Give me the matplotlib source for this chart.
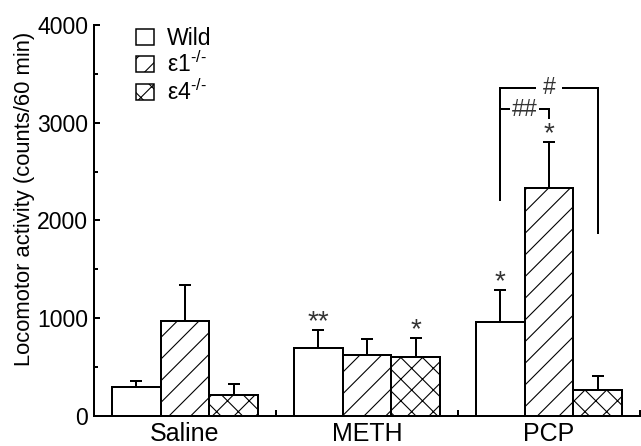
import matplotlib
matplotlib.use("Agg")
import matplotlib.pyplot as plt
import numpy as np
from matplotlib.patches import Patch

DPI = 130
def pt(px):
    return px * 72.0 / DPI

plt.rcParams['font.family'] = ['Liberation Sans', 'DejaVu Sans']
plt.rcParams['mathtext.fontset'] = 'custom'
plt.rcParams['mathtext.rm'] = 'Liberation Sans'
plt.rcParams['mathtext.it'] = 'Liberation Sans:italic'
plt.rcParams['hatch.linewidth'] = pt(1.1)

# ---- data ----
categories = ["Saline", "METH", "PCP"]
series = ["Wild", r"ε1$^{\text{-/-}}$", r"ε4$^{\text{-/-}}$"]
wild_mean = [291, 693, 959]
wild_err = [64, 184, 328]
e1_mean = [972, 618, 2327]
e1_err = [369, 164, 478]
e4_mean = [209, 598, 263]
e4_err = [112, 194, 143]
# significance stars: (category index, series index, label)
stars = [(1, 0, "**"), (1, 2, "*"), (2, 0, "*"), (2, 1, "*")]
# brackets: (category, series a, series b, label, level, drop a, drop b)
brackets = [(2, 0, 2, "#", 3360, 2210, 1870),
            (2, 0, 1, "##", 3140, 3140, 3050)]
yticks = [0, 1000, 2000, 3000, 4000]

means = [wild_mean, e1_mean, e4_mean]
errs = [wild_err, e1_err, e4_err]
hatches = ["", "//", "xx"]

fig = plt.figure(figsize=(641 / DPI, 446 / DPI), dpi=DPI)
W, H = 641, 446
left, right, bottom_px, top_px = 94, 640, 415.7, 25
ax = fig.add_axes([left / W, (H - bottom_px) / H, (right - left) / W, (bottom_px - top_px) / H])

x = np.arange(1, len(categories) + 1)
bw = 0.268
offsets = [-bw, 0, bw]
for i in range(3):
    ax.bar(x + offsets[i], means[i], width=bw, facecolor="white", edgecolor="black",
           linewidth=pt(2), hatch=hatches[i], zorder=2)
    ax.errorbar(x + offsets[i], means[i], yerr=[np.zeros(3), errs[i]], fmt="none",
                ecolor="black", elinewidth=pt(2), capsize=pt(6), capthick=pt(2), zorder=1)

for c, s, lab in stars:
    xs = x[c] + offsets[s]
    ys = means[s][c] + errs[s][c]
    ax.annotate(lab, (xs, ys), xytext=(0, pt(1)), textcoords="offset points",
                ha="center", va="baseline", fontsize=pt(28), color="#333333")

for c, a, b, lab, lvl, da, db in brackets:
    xa = x[c] + offsets[a]
    xb = x[c] + offsets[b]
    ax.plot([xa, xa, xb, xb], [da, lvl, lvl, db], color="black", lw=pt(2), zorder=3,
            solid_joinstyle="miter")
    if lab == "#":
        xt = x[c] + offsets[1]
        pad = 0.3
    else:
        xt = (xa + xb) / 2
        pad = 0.06
    ax.text(xt, lvl, lab, ha="center", va="center", fontsize=pt(23), color="#333333",
            zorder=4, bbox=dict(boxstyle=f"square,pad={pad}", facecolor="white", edgecolor="none"))

ax.set_xlim(0.5, 3.5)
ax.set_ylim(0, 4000)
ax.spines['top'].set_visible(False)
ax.spines['right'].set_visible(False)
ax.spines['left'].set_linewidth(pt(2))
ax.spines['bottom'].set_linewidth(pt(2))

ax.set_yticks(yticks)
ax.set_yticks(np.arange(500, 4000, 1000), minor=True)
ax.tick_params(axis='y', which='major', direction='in', length=pt(6), width=pt(2),
               labelsize=pt(23), pad=pt(6))
ax.tick_params(axis='y', which='minor', direction='in', length=pt(4), width=pt(2))

ax.set_xticks(x)
ax.set_xticklabels(categories)
ax.set_xticks(x + 0.5, minor=True)
ax.tick_params(axis='x', which='major', length=0, labelsize=pt(25), pad=pt(6))
ax.tick_params(axis='x', which='minor', direction='in', length=pt(6), width=pt(2))

ax.set_ylabel("Locomotor activity (counts/60 min)", fontsize=pt(22))
ax.yaxis.set_label_coords(-0.108, 0.555)

handles = [Patch(facecolor="white", edgecolor="black", hatch=h, linewidth=pt(1.5)) for h in hatches]
ax.legend(handles, series, loc="upper left", bbox_to_anchor=((136 - left) / (right - left), 0.995),
          frameon=False, fontsize=pt(23), handlelength=0.78, handleheight=0.7,
          handletextpad=0.55, labelspacing=0.08, borderpad=0, borderaxespad=0)

fig.savefig("out.png", dpi=DPI)
